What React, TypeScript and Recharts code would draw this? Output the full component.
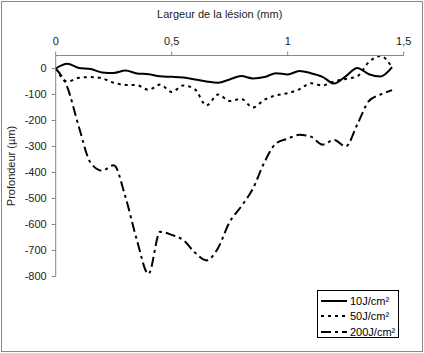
import React from 'react';
import { LineChart, Line, XAxis, YAxis, Legend } from 'recharts';

const xs = [0, 0.05, 0.1, 0.15, 0.2, 0.25, 0.3, 0.35, 0.4, 0.45, 0.5, 0.55, 0.6, 0.65, 0.7, 0.75, 0.8, 0.85, 0.9, 0.95, 1.0, 1.05, 1.1, 1.15, 1.2, 1.25, 1.3, 1.35, 1.4, 1.45];
const s10 = [0, 18, 2, -2, -15, -17, -8, -19, -22, -30, -32, -35, -42, -50, -55, -42, -29, -38, -33, -18, -23, -10, -18, -32, -58, -30, 2, -22, -31, 5];
const s50 = [0, -50, -36, -33, -38, -55, -63, -64, -82, -62, -90, -65, -80, -142, -100, -125, -117, -150, -120, -103, -95, -80, -57, -65, -50, -40, -30, 25, 48, 5];
const s200 = [0, -72, -225, -362, -393, -372, -492, -660, -790, -628, -640, -660, -708, -738, -690, -590, -530, -462, -360, -288, -270, -255, -262, -293, -275, -300, -215, -125, -100, -83];

const xTicks = [0, 0.5, 1, 1.5];
const yTicks = [-800, -700, -600, -500, -400, -300, -200, -100, 0];

const seriesNames = ['10J/cm²', '50J/cm²', '200J/cm²'];
const dashes = [undefined, '3 4', '10 4 3 4'];

const data = xs.map((x, i) => ({ x, a: s10[i], b: s50[i], c: s200[i] }));

const font = '"Liberation Sans", Arial, sans-serif';

const LegendBox = () => (
  <div
    style={{
      border: '1px solid #000',
      background: '#fff',
      width: 82,
      height: 48,
      boxSizing: 'border-box',
      padding: '2px 0 0 2px',
      fontFamily: font,
      fontSize: 11,
      color: '#000',
    }}
  >
    {seriesNames.map((n, i) => (
      <div key={n} style={{ display: 'flex', alignItems: 'center', height: 15.5 }}>
        <svg width={30} height={6} style={{ display: 'block', flex: 'none' }}>
          <line x1={1} y1={3} x2={27} y2={3} stroke="#000" strokeWidth={2} strokeDasharray={dashes[i]} />
        </svg>
        <span>{n}</span>
      </div>
    ))}
  </div>
);

export default function App() {
  return (
    <div style={{ position: 'absolute', left: 0, top: 0, width: 424, height: 353, background: '#fff' }}>
      <LineChart
        width={424}
        height={353}
        data={data}
        margin={{ top: 0, right: 20.3, bottom: 28.5, left: 0 }}
      >
        <XAxis
          type="number"
          dataKey="x"
          orientation="top"
          domain={[0, 1.5]}
          ticks={xTicks}
          height={55.5}
          tickSize={4}
          tickMargin={7}
          stroke="#868686"
          tick={{ fill: '#222', fontSize: 11, fontFamily: font }}
          tickFormatter={(v) => String(v).replace('.', ',')}
          label={{
            value: 'Largeur de la lésion (mm)',
            position: 'insideTop',
            offset: 10,
            dx: -10,
            style: { fill: '#222', fontSize: 11, fontFamily: font },
          }}
        />
        <YAxis
          type="number"
          domain={[-800, 50]}
          ticks={yTicks}
          width={55.7}
          tickSize={4}
          tickMargin={5}
          stroke="#868686"
          allowDataOverflow
          tick={{ fill: '#222', fontSize: 11, fontFamily: font }}
          label={{
            value: 'Profondeur (µm)',
            angle: -90,
            position: 'insideLeft',
            offset: 11,
            style: { fill: '#222', fontSize: 11, fontFamily: font, textAnchor: 'middle' },
          }}
        />
        <Line type="monotone" dataKey="a" name={seriesNames[0]} stroke="#000" strokeWidth={2} dot={false} isAnimationActive={false} />
        <Line type="monotone" dataKey="b" name={seriesNames[1]} stroke="#000" strokeWidth={2} strokeDasharray={dashes[1]} dot={false} isAnimationActive={false} />
        <Line type="monotone" dataKey="c" name={seriesNames[2]} stroke="#000" strokeWidth={2} strokeDasharray={dashes[2]} dot={false} isAnimationActive={false} />
        <Legend
          content={() => <LegendBox />}
          wrapperStyle={{ position: 'absolute', left: 317, top: 290, width: 82, height: 48 }}
        />
      </LineChart>
      <div
        style={{
          position: 'absolute',
          left: 1,
          top: 1,
          width: 422,
          height: 351,
          border: '1px solid #888',
          boxSizing: 'border-box',
          pointerEvents: 'none',
        }}
      />
    </div>
  );
}
